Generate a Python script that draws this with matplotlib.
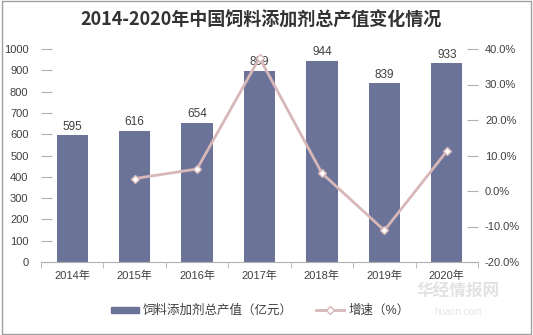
import numpy as np
import matplotlib.pyplot as plt
from matplotlib.ticker import FuncFormatter, MultipleLocator
from matplotlib.lines import Line2D
from matplotlib.patches import Patch

plt.rcParams['font.family'] = ['Liberation Sans', 'Noto Sans CJK SC', 'DejaVu Sans']

years = ["2014年", "2015年", "2016年", "2017年", "2018年", "2019年", "2020年"]
output = [595, 616, 654, 899, 944, 839, 933]
growth = [np.nan, 3.5, 6.2, 37.5, 5.0, -11.1, 11.2]

bar_color = "#6b7498"
line_color = "#d8b7b9"

fig = plt.figure(figsize=(5.33, 3.35), dpi=100)
ax = fig.add_axes([41 / 533, 1 - 262 / 335, 437 / 533, 213 / 335])
x = np.arange(len(years))

ax.bar(x, output, width=0.5, color=bar_color, zorder=2)
for xi, v in zip(x, output):
    ax.text(xi, v + 12, str(v), ha="center", va="bottom", fontsize=8.5, color="#404040")

ax.set_xlim(-0.5, len(years) - 0.5)
ax.set_ylim(0, 1000)
ax.yaxis.set_major_locator(MultipleLocator(100))
ax.set_xticks(x)
ax.set_xticklabels(years, fontsize=8, color="#404040")
ax.set_xticks(np.arange(-0.5, len(years), 1), minor=True)
ax.tick_params(axis="x", which="major", length=0, pad=6)
ax.tick_params(axis="x", which="minor", length=4, color="#b0b0b0", direction="out")
ax.tick_params(axis="y", labelsize=8, labelcolor="#404040", length=8,
               color="#b0b0b0", direction="in", pad=9)
for s in ["top", "left", "right"]:
    ax.spines[s].set_visible(False)
ax.spines["bottom"].set_color("#b0b0b0")

ax2 = ax.twinx()
ax2.plot(x, growth, color=line_color, linewidth=2, marker="D", markersize=4.5,
         markerfacecolor="white", markeredgecolor=line_color, zorder=3)
ax2.set_ylim(-20, 40)
ax2.yaxis.set_major_locator(MultipleLocator(10))
ax2.yaxis.set_major_formatter(FuncFormatter(lambda v, p: f"{v:.1f}%"))
ax2.tick_params(axis="y", labelsize=8, labelcolor="#404040", length=8,
                color="#b0b0b0", direction="in", pad=5)
for s in ["top", "left", "right", "bottom"]:
    ax2.spines[s].set_visible(False)

fig.text(0.49, 1 - 20 / 335, "2014-2020年中国饲料添加剂总产值变化情况",
         ha="center", va="center", fontsize=13, fontweight="bold", color="#333333",
         family=["Noto Sans CJK SC"])

handles = [Patch(color=bar_color),
           Line2D([], [], color=line_color, linewidth=2, marker="D", markersize=4.5,
                  markerfacecolor="white", markeredgecolor=line_color)]
fig.legend(handles, ["饲料添加剂总产值（亿元）", "增速（%）"], loc="center",
           bbox_to_anchor=(260 / 533, 1 - 311 / 335), ncol=2, frameon=False,
           fontsize=9, handlelength=2.3, handleheight=0.35, handletextpad=0.3,
           columnspacing=1.8, labelcolor="#404040")

fig.text(458 / 533, 1 - 292 / 335, "华经情报网", ha="center", va="center",
         fontsize=12, color="#e2e2e2", fontweight="bold", family=["Noto Sans CJK SC"])
fig.text(458 / 533, 1 - 312 / 335, "huaon.com", ha="center", va="center",
         fontsize=7, color="#e6e6e6")

fig.patches.append(plt.Rectangle((0.003, 0.003), 0.994, 0.994, transform=fig.transFigure,
                                 fill=False, edgecolor="#a0a0a0", linewidth=1))

fig.savefig("out.png", dpi=100)
